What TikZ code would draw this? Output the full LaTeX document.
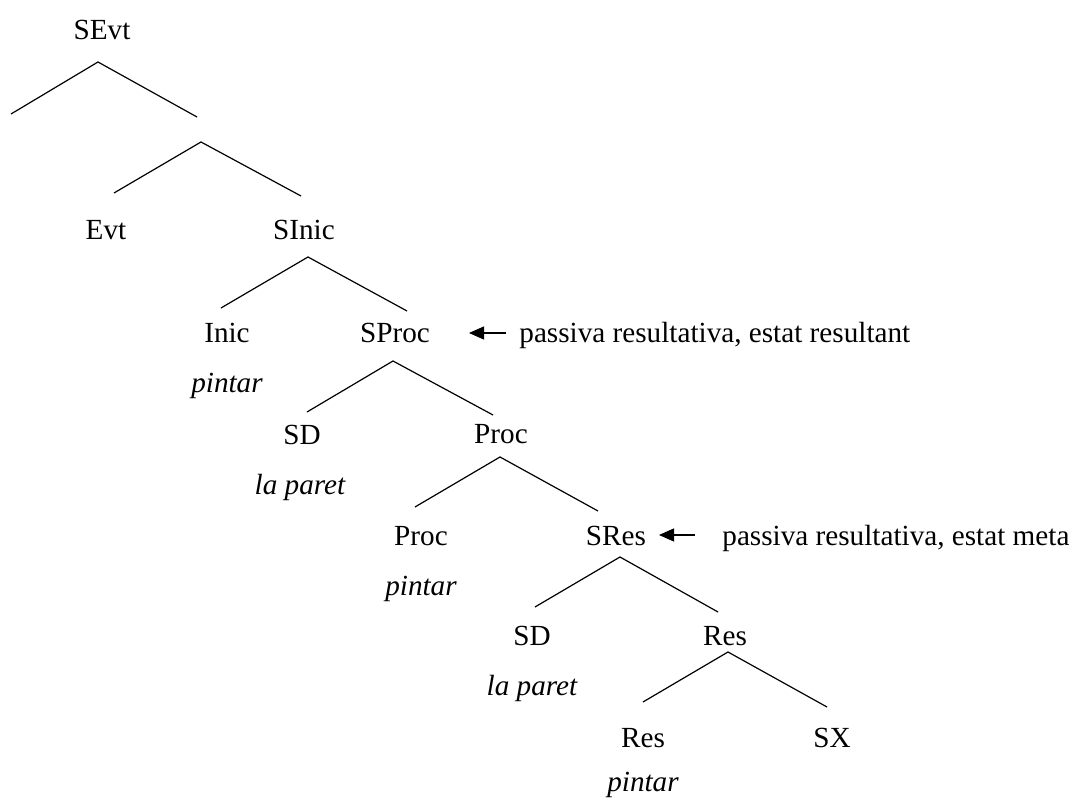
\documentclass[tikz,border=0pt]{standalone}
\usepackage{fontspec}
\setmainfont{Liberation Serif}
\usetikzlibrary{arrows.meta}

\newcommand{\treefont}{\fontsize{14.6}{17}\selectfont}

\tikzset{
  lbl/.style={anchor=base, inner sep=0pt},
  gloss/.style={anchor=base, inner sep=0pt, font=\treefont\itshape},
  note/.style={anchor=base west, inner sep=0pt},
  branch/.style={line width=0.6pt},
  pointer/.style={line width=0.6pt, -{Triangle[length=7.5pt,width=6.5pt]}}
}

\begin{document}
\begin{tikzpicture}[x=0.5pt, y=-0.5pt, font=\treefont]
\useasboundingbox (0,0) rectangle (1072,801);

% labels
\node[lbl] (sevt)  at (102,40)  {SEvt};
\node[lbl] (evt)   at (106,240) {Evt};
\node[lbl] (sinic) at (304,240) {SInic};
\node[lbl] (inic)  at (227,343) {Inic};
\node[gloss] (inicv) at (227,393) {pintar};
\node[lbl] (sproc) at (395,343) {SProc};
\node[lbl] (sda)   at (302,445) {SD};
\node[gloss] (sdav) at (300,495) {la paret};
\node[lbl] (proca) at (501,444) {Proc};
\node[lbl] (procb) at (421,546) {Proc};
\node[gloss] (procbv) at (421,596) {pintar};
\node[lbl] (sres)  at (616,546) {SRes};
\node[lbl] (sdb)   at (532,646) {SD};
\node[gloss] (sdbv) at (532,696) {la paret};
\node[lbl] (resa)  at (725,646) {Res};
\node[lbl] (resb)  at (643,748) {Res};
\node[gloss] (resbv) at (643,792) {pintar};
\node[lbl] (sx)    at (832,748) {SX};

% side notes
\node[note] (noteproc) at (519,343) {passiva resultativa, estat resultant};
\node[note] (noteres)  at (722,546) {passiva resultativa, estat meta};

% branch points
\coordinate (sevt-a) at (98,62);   \coordinate (sevt-l) at (11,114);  \coordinate (sevt-r) at (197,117);
\coordinate (evtb-a) at (201,142); \coordinate (evtb-l) at (114,193); \coordinate (evtb-r) at (301,196);
\coordinate (sinic-a) at (308,257); \coordinate (sinic-l) at (221,308); \coordinate (sinic-r) at (407,311);
\coordinate (sproc-a) at (393,361); \coordinate (sproc-l) at (307,412); \coordinate (sproc-r) at (493,415);
\coordinate (proca-a) at (500,457); \coordinate (proca-l) at (415,507); \coordinate (proca-r) at (598,511);
\coordinate (sres-a) at (620,557); \coordinate (sres-l) at (535,607); \coordinate (sres-r) at (718,612);
\coordinate (resa-a) at (728,652); \coordinate (resa-l) at (643,702); \coordinate (resa-r) at (827,707);

\draw[branch] (sevt-l) -- (sevt-a) -- (sevt-r);
\draw[branch] (evtb-l) -- (evtb-a) -- (evtb-r);
\draw[branch] (sinic-l) -- (sinic-a) -- (sinic-r);
\draw[branch] (sproc-l) -- (sproc-a) -- (sproc-r);
\draw[branch] (proca-l) -- (proca-a) -- (proca-r);
\draw[branch] (sres-l) -- (sres-a) -- (sres-r);
\draw[branch] (resa-l) -- (resa-a) -- (resa-r);

% arrows to the notes
\coordinate (tailproc) at (506,333); \coordinate (tipproc) at (469,333);
\coordinate (tailres) at (695,535);  \coordinate (tipres) at (659,535);
\draw[pointer] (tailproc) -- (tipproc);
\draw[pointer] (tailres) -- (tipres);
\end{tikzpicture}
\end{document}
